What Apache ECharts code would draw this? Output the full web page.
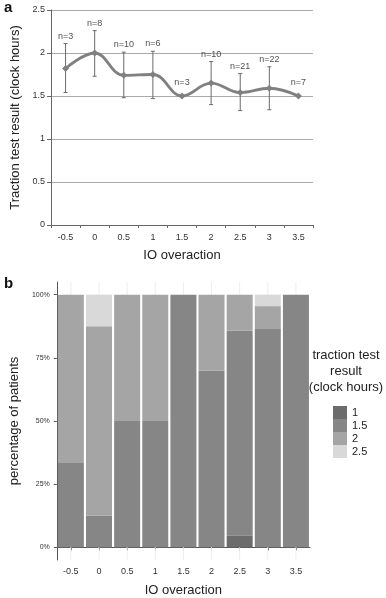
<!DOCTYPE html>
<html><head><meta charset="utf-8">
<script src="https://cdn.jsdelivr.net/npm/echarts@6/dist/echarts.min.js"></script>
<style>html,body{margin:0;padding:0;background:#fff}#c{width:386px;height:598px}</style>
</head><body><div id="c"></div>
<script>
// ---------- data ----------
var categories = ['-0.5','0','0.5','1','1.5','2','2.5','3','3.5'];
// panel a: mean traction test result and error bar ends
var meanValues = [1.82, 2.0, 1.74, 1.75, 1.5, 1.65, 1.54, 1.59, 1.5];
var errHigh    = [2.11, 2.26, 2.01, 2.02, null, 1.90, 1.76, 1.84, null];
var errLow     = [1.54, 1.73, 1.48, 1.47, null, 1.40, 1.33, 1.34, null];
var nLabels    = [3, 8, 10, 6, 3, 10, 21, 22, 7];
// panel b: patient counts per traction test result level
var levels   = ['1', '1.5', '2', '2.5'];
var count1   = [0, 0, 0, 0, 0, 0, 1, 0, 0];
var count15  = [1, 1, 5, 3, 3, 7, 17, 19, 7];
var count2   = [2, 6, 5, 3, 0, 3, 3, 2, 0];
var count25  = [0, 1, 0, 0, 0, 0, 0, 1, 0];
var yTicksB = [0, 0.25, 0.5, 0.75, 1];

// ---------- build ----------
var levelCounts = [count1, count15, count2, count25];
var totals = categories.map(function(_, i){ return count1[i]+count15[i]+count2[i]+count25[i]; });
var levelColors = ['#6c6c6c', '#868686', '#a5a5a5', '#d9d9d9'];
var FONT = 'Liberation Sans, Arial, sans-serif';

var chart = echarts.init(document.getElementById('c'), null, {renderer: 'canvas'});

var barSeries = levels.map(function(lv, k){
  return {
    type: 'bar', name: lv, xAxisIndex: 1, yAxisIndex: 1, stack: 'p',
    barWidth: 26, z: 3,
    itemStyle: {color: levelColors[k]},
    data: levelCounts[k].map(function(c, i){ return c / totals[i]; })
  };
});

var option = {
  animation: false,
  backgroundColor: '#fff',
  textStyle: {fontFamily: FONT},
  grid: [
    {left: 51, top: 10, width: 262, height: 215},
    {left: 51, top: 282, width: 259, height: 281}
  ],
  xAxis: [
    {
      type: 'category', gridIndex: 0, data: categories, boundaryGap: true,
      name: 'IO overaction', nameLocation: 'middle', nameGap: 24,
      nameTextStyle: {fontSize: 13, color: '#222', fontFamily: FONT},
      axisLine: {lineStyle: {color: '#666', width: 1}},
      axisTick: {show: true, length: 3, lineStyle: {color: '#666'}},
      axisLabel: {fontSize: 9, color: '#333', margin: 8, fontFamily: FONT},
      splitLine: {show: false}
    },
    {
      type: 'category', gridIndex: 1, data: categories, boundaryGap: true,
      name: 'IO overaction', nameLocation: 'middle', nameGap: 24,
      nameTextStyle: {fontSize: 13, color: '#222', fontFamily: FONT},
      axisLine: {lineStyle: {color: '#555', width: 1}},
      axisTick: {show: true, alignWithLabel: true, length: 3, lineStyle: {color: '#555'}},
      axisLabel: {fontSize: 9, color: '#333', margin: 7, fontFamily: FONT},
      splitLine: {show: false}
    }
  ],
  yAxis: [
    {
      type: 'value', gridIndex: 0, min: 0, max: 2.5, interval: 0.5,
      name: 'Traction test result (clock hours)', nameLocation: 'middle', nameGap: 22,
      nameTextStyle: {fontSize: 13, color: '#222', fontFamily: FONT},
      axisLine: {show: true, lineStyle: {color: '#666'}},
      axisTick: {show: true, length: 4, lineStyle: {color: '#666'}},
      axisLabel: {fontSize: 9, color: '#333', margin: 6, fontFamily: FONT},
      splitLine: {show: true, lineStyle: {color: '#aaa', width: 1}}
    },
    {
      type: 'value', gridIndex: 1, min: -0.05, max: 1.05,
      name: 'percentage of patients', nameLocation: 'middle', nameGap: 22,
      nameTextStyle: {fontSize: 13, color: '#222', fontFamily: FONT},
      axisLine: {show: true, lineStyle: {color: '#555'}},
      axisTick: {show: true, length: 3, customValues: yTicksB, lineStyle: {color: '#555'}},
      axisLabel: {fontSize: 7, color: '#333', margin: 7, fontFamily: FONT,
        customValues: yTicksB,
        formatter: function(v){ return Math.round(v*100) + '%'; }},
      splitLine: {show: false}
    }
  ],
  legend: {
    orient: 'vertical', left: 328, top: 401, itemWidth: 14, itemHeight: 13, itemGap: 0,
    icon: 'rect', data: levels, selectedMode: false,
    textStyle: {fontSize: 11, color: '#222', fontFamily: FONT, lineHeight: 13, padding: [0,0,0,0]},
    itemStyle: {borderWidth: 0}
  },
  graphic: [
    {type: 'text', left: 4, top: 0, style: {text: 'a', font: 'bold 15px ' + FONT, fill: '#111'}},
    {type: 'text', left: 4, top: 276, style: {text: 'b', font: 'bold 15px ' + FONT, fill: '#111'}},
    {type: 'text', x: 346, y: 347, style: {text: 'traction test\nresult\n(clock hours)', font: '13px ' + FONT, fill: '#222', textAlign: 'center', lineHeight: 16}}
  ],
  series: [
    // faint vertical guides (panel b), behind bars
    {
      type: 'custom', xAxisIndex: 1, yAxisIndex: 1, z: 1, silent: true,
      data: categories.map(function(c, i){ return [i]; }),
      encode: {x: 0},
      renderItem: function(params, api){
        var top = api.coord([api.value(0), 1.05]);
        var bot = api.coord([api.value(0), -0.05]);
        return {type: 'line', shape: {x1: top[0], y1: top[1], x2: bot[0], y2: bot[1]},
          style: {stroke: '#eeeeee', lineWidth: 1}};
      }
    },
    // error bars (panel a)
    {
      type: 'custom', xAxisIndex: 0, yAxisIndex: 0, z: 3,
      data: categories.map(function(c, i){ return [i, errLow[i], errHigh[i]]; }).filter(function(d){ return d[1] != null; }),
      encode: {x: 0, y: [1, 2]},
      renderItem: function(params, api){
        var lo = api.coord([api.value(0), api.value(1)]);
        var hi = api.coord([api.value(0), api.value(2)]);
        var w = 2;
        var st = {stroke: '#6a6a6a', lineWidth: 1};
        return {type: 'group', children: [
          {type: 'line', shape: {x1: lo[0], y1: lo[1], x2: hi[0], y2: hi[1]}, style: st},
          {type: 'line', shape: {x1: hi[0]-w, y1: hi[1], x2: hi[0]+w, y2: hi[1]}, style: st},
          {type: 'line', shape: {x1: lo[0]-w, y1: lo[1], x2: lo[0]+w, y2: lo[1]}, style: st}
        ]};
      }
    },
    // mean line
    {
      type: 'line', xAxisIndex: 0, yAxisIndex: 0, z: 4, smooth: 0.4,
      data: meanValues, symbol: 'diamond', symbolSize: 7, showSymbol: true,
      lineStyle: {color: '#808080', width: 2.8},
      itemStyle: {color: '#808080'}
    },
    // n labels
    {
      type: 'scatter', xAxisIndex: 0, yAxisIndex: 0, z: 5, symbolSize: 0, silent: true,
      data: categories.map(function(c, i){
        var hasErr = errHigh[i] != null;
        return {value: [i, hasErr ? errHigh[i] : meanValues[i]],
          label: {distance: hasErr ? 3 : 9}, n: nLabels[i]};
      }),
      label: {show: true, position: 'top', fontSize: 9, color: '#222', fontFamily: FONT,
        formatter: function(p){ return 'n=' + p.data.n; }}
    }
  ].concat(barSeries)
};
chart.setOption(option);
</script></body></html>
